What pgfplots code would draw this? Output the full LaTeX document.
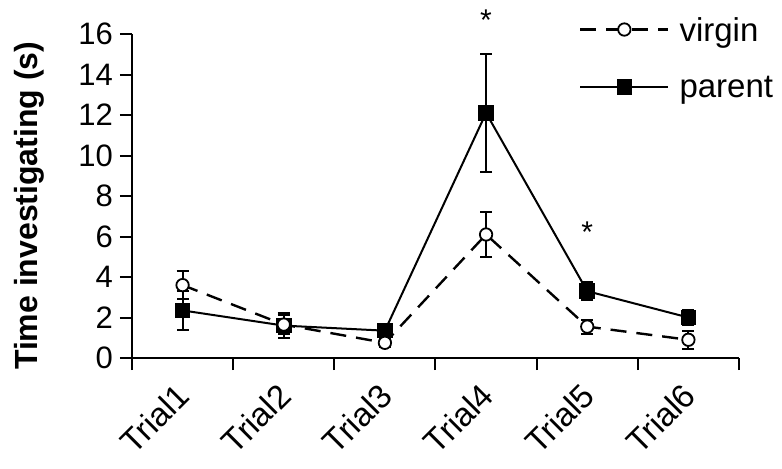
\documentclass[border=0pt]{standalone}
\usepackage{pgfplots}
\pgfplotsset{compat=1.18}
\usepackage{fontspec}
\setmainfont{Liberation Sans}
\begin{document}
\begin{tikzpicture}
\begin{axis}[
  name=ax,
  scale only axis,
  width=303.5pt, height=162pt,
  xmin=0, xmax=6, ymin=0, ymax=16,
  axis lines=left,
  axis line style={-, line width=1pt},
  tick align=outside,
  major tick length=6pt,
  tick style={line width=1pt, black},
  ytick={0,2,...,16},
  xtick={0,1,...,6},
  xticklabels={},
  extra x ticks={0.5,1.5,2.5,3.5,4.5,5.5},
  extra x tick labels={Trial1,Trial2,Trial3,Trial4,Trial5,Trial6},
  extra x tick style={tick style={draw=none},
    xticklabel style={font=\fontsize{16.5}{19}\selectfont, xshift=3pt, yshift=-7.5pt, rotate=45, anchor=east}},
  yticklabel style={font=\fontsize{15.5}{18}\selectfont},
  /pgf/number format/assume math mode=true,
  ylabel={\textbf{Time investigating (s)}},
  ylabel style={at={(axis description cs:-0.17,0.47)}, anchor=center, font=\fontsize{16}{19}\selectfont},
  clip=false,
  legend style={at={(axis description cs:0.736,1.052)}, anchor=north west, draw=none, fill=none,
    font=\fontsize{16.5}{20}\selectfont, row sep=17.5pt, inner sep=0pt, cells={anchor=west},
    nodes={inner sep=0pt, text depth=0pt}},
  legend image code/.code={\draw[mark repeat=2, mark phase=2, #1] plot coordinates {(0pt,0pt) (22pt,0pt) (44pt,0pt)};},
  legend cell align=left,
  reverse legend,
]
\addplot[black, line width=1pt, mark=square*, mark size=3.4pt, mark options={solid},
  error bars/.cd, y dir=both, y explicit, error mark=-, error mark options={rotate=90, mark size=3pt, line width=1pt},
  error bar style={solid, line width=1pt}]
  coordinates {
  (0.5,2.35) +- (0,0.95)
  (1.5,1.6) +- (0,0.6)
  (2.5,1.35) +- (0,0.3)
  (3.5,12.1) +- (0,2.9)
  (4.5,3.3) +- (0,0.45)
  (5.5,2.0) +- (0,0.35)
  };
\addlegendentry{\hspace{5pt}parent}
\addplot[black, line width=1.2pt, dash pattern=on 8pt off 5pt, mark=*, mark size=3.1pt, mark options={solid, fill=white, line width=0.9pt},
  error bars/.cd, y dir=both, y explicit, error mark=-, error mark options={rotate=90, mark size=3pt, line width=1pt, solid},
  error bar style={solid, line width=1pt}]
  coordinates {
  (0.5,3.6) +- (0,0.7)
  (1.5,1.65) +- (0,0.45)
  (2.5,0.75) +- (0,0.2)
  (3.5,6.1) +- (0,1.1)
  (4.5,1.55) +- (0,0.35)
  (5.5,0.9) +- (0,0.45)
  };
\addlegendentry{\hspace{5pt}virgin}
\node[font=\fontsize{15}{18}\selectfont] at (axis cs:3.5,16.7) {*};
\node[font=\fontsize{15}{18}\selectfont] at (axis cs:4.5,6.2) {*};
\end{axis}
\pgfresetboundingbox
\path ([shift={(-66pt,-55pt)}]ax.south west) rectangle ([shift={(21.5pt,17pt)}]ax.north east);
\end{tikzpicture}
\end{document}
